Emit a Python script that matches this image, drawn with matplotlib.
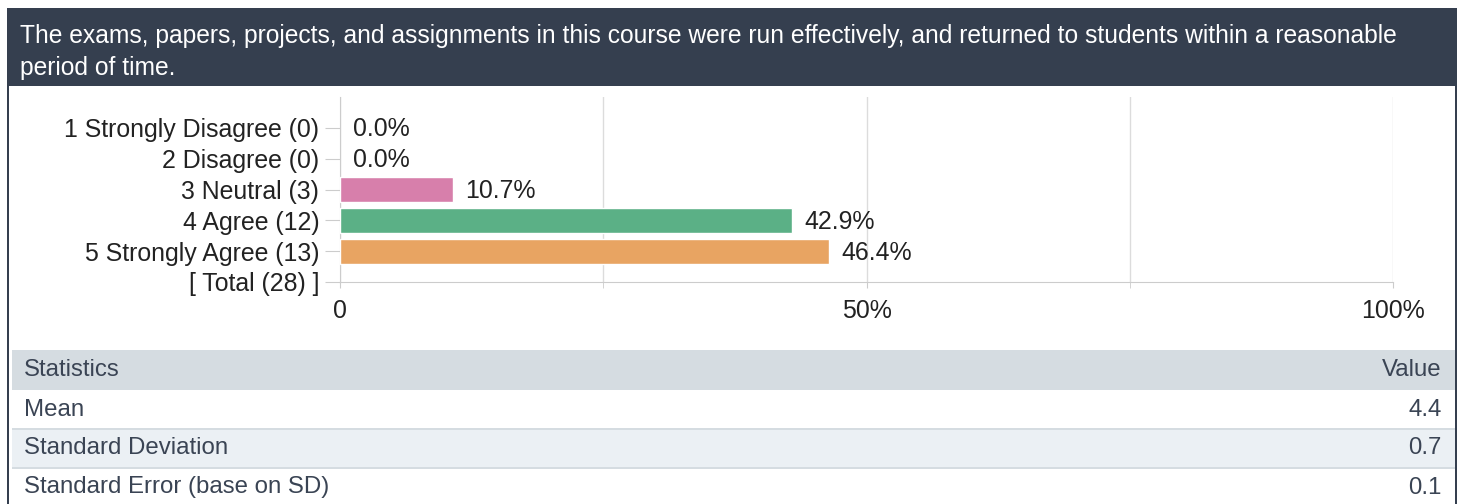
import matplotlib
matplotlib.use("Agg")
import matplotlib.pyplot as plt
from matplotlib.patches import Rectangle

plt.rcParams['font.family'] = ['Liberation Sans', 'DejaVu Sans']

# ---- data ----
question = ("The exams, papers, projects, and assignments in this course were run effectively, "
            "and returned to students within a reasonable\nperiod of time.")
answers = ['1 Strongly Disagree', '2 Disagree', '3 Neutral', '4 Agree', '5 Strongly Agree']
counts = [0, 0, 3, 12, 13]
percents = [0.0, 0.0, 10.7, 42.9, 46.4]
total = 28
bar_colors = ['#d77fab', '#d77fab', '#d77fab', '#5bb086', '#e8a462']
stat_names = ['Mean', 'Standard Deviation', 'Standard Error (base on SD)']
stat_values = ['4.4', '0.7', '0.1']

W, H = 1458, 504
fig = plt.figure(figsize=(W / 100, H / 100), dpi=100)
fig.patch.set_facecolor('white')

def px_axes(x0, y0, x1, y1):
    # rectangle given in pixel coords, y from top
    return fig.add_axes([x0 / W, 1 - y1 / H, (x1 - x0) / W, (y1 - y0) / H])

# background / frame layer
bg = px_axes(0, 0, W, H)
bg.set_xlim(0, W)
bg.set_ylim(H, 0)
bg.axis('off')
dark = '#353f4f'
bg.add_patch(Rectangle((7, 8), 1450, 78, color=dark, lw=0))
bg.add_patch(Rectangle((7, 8), 2, H, color=dark, lw=0))
bg.add_patch(Rectangle((1455, 8), 2, H, color=dark, lw=0))
bg.text(20, 52, question, color='white', fontsize=17.7, va='center', ha='left',
        linespacing=1.45)

# statistics table
txt = '#3a4454'
fs_tab = 17.3
bg.add_patch(Rectangle((12, 350), 1443, 40, color='#d5dce1', lw=0))
bg.text(24, 370, 'Statistics', color=txt, fontsize=fs_tab, va='center')
bg.text(1442, 370, 'Value', color=txt, fontsize=fs_tab, va='center', ha='right')
row_top = 390
row_h = 39
for i, (name, val) in enumerate(zip(stat_names, stat_values)):
    y0 = row_top + i * row_h
    fc = '#ebf0f4' if i % 2 == 1 else 'white'
    bg.add_patch(Rectangle((12, y0), 1443, row_h, color=fc, lw=0))
    if i > 0:
        bg.add_patch(Rectangle((12, y0 - 1), 1443, 2, color='#d5dce1', lw=0))
    bg.text(24, y0 + row_h / 2, name, color=txt, fontsize=fs_tab, va='center')
    bg.text(1442, y0 + row_h / 2, val, color=txt, fontsize=fs_tab, va='center', ha='right')

# bar chart
fs = 17.9
ax = px_axes(340, 97, 1393, 282)
ypos = list(range(len(answers)))
for y, p, c in zip(ypos, percents, bar_colors):
    if p > 0:
        ax.barh(y, p, height=0.8, color=c, edgecolor='white', linewidth=1.0, zorder=3)
for y, p in zip(ypos, percents):
    ax.annotate(f'{p:.1f}%', (p, y), xytext=(9, -1), textcoords='offset points',
                va='center', ha='left', fontsize=fs, color='#222222', zorder=4)

ylabels = [f'{a} ({n})' for a, n in zip(answers, counts)] + [f'[ Total ({total}) ]']
ax.set_yticks(list(range(len(ylabels))))
ax.set_yticklabels(ylabels, fontsize=fs, color='#222222')
ax.set_ylim(5, -1)

ax.set_xlim(0, 100)
ax.set_xticks([0, 50, 100])
ax.set_xticklabels(['0', '50%', '100%'], fontsize=fs, color='#222222')
ax.set_xticks([25, 75], minor=True)
ax.grid(True, axis='x', which='both', color='#dcdcdc', lw=1, zorder=0)
ax.tick_params(axis='y', length=11, color='#cccccc', pad=4)
ax.tick_params(axis='x', which='both', length=4, color='#cccccc', pad=8)
for s in ['top', 'right']:
    ax.spines[s].set_visible(False)
ax.spines['left'].set_color('#cccccc')
ax.spines['bottom'].set_color('#cccccc')
ax.set_facecolor('none')

fig.savefig('out.png', dpi=100)
